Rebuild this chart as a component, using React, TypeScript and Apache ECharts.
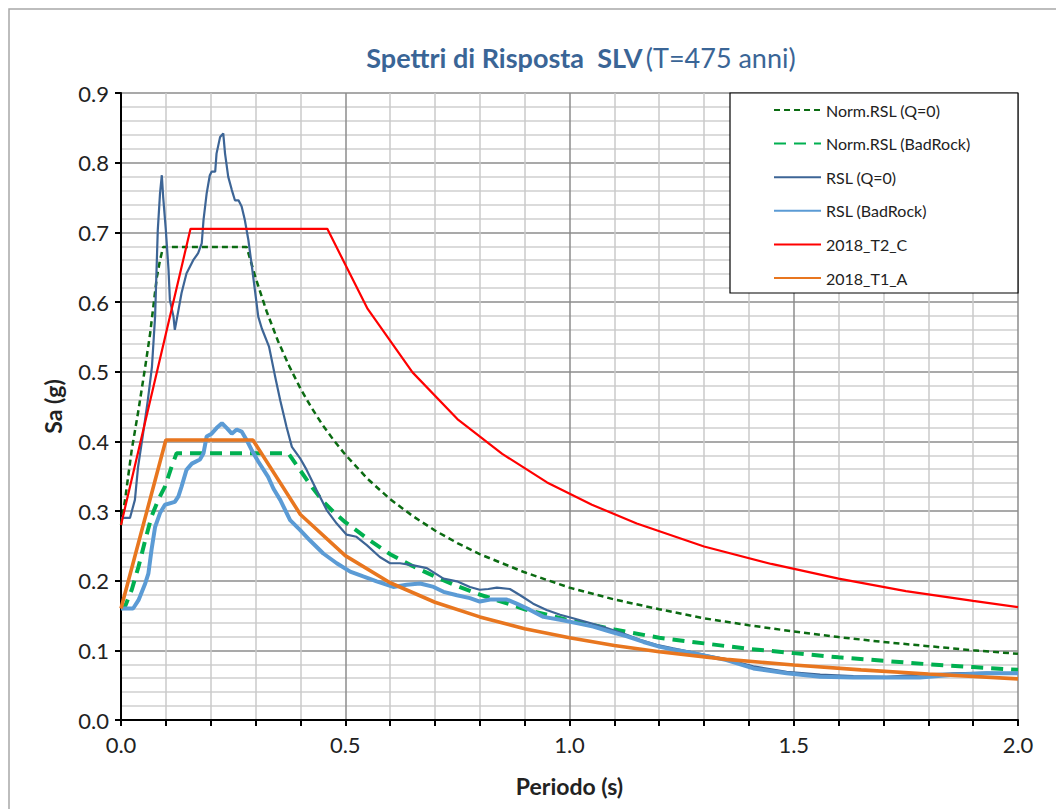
import React, { useEffect, useRef } from "react";
import * as echarts from "echarts";

const FONT = "Lato, 'Noto Sans', sans-serif";

const seriesNames = [
  "Norm.RSL (Q=0)",
  "Norm.RSL (BadRock)",
  "RSL (Q=0)",
  "RSL (BadRock)",
  "2018_T2_C",
  "2018_T1_A",
];

const xTickLabels = ["0.0", "0.5", "1.0", "1.5", "2.0"];

const normQ0T = [0.0, 0.009, 0.024, 0.039, 0.054, 0.065, 0.072, 0.08, 0.087, 0.094, 0.28, 0.3, 0.325, 0.35, 0.375, 0.4, 0.425, 0.45, 0.475, 0.5, 0.55, 0.6, 0.65, 0.7, 0.75, 0.8, 0.9, 1.0, 1.1, 1.2, 1.3, 1.4, 1.5, 1.6, 1.7, 1.8, 1.9, 2.0];
const normQ0Sa = [0.28, 0.316, 0.388, 0.445, 0.507, 0.555, 0.593, 0.636, 0.66, 0.679, 0.679, 0.635, 0.586, 0.544, 0.508, 0.476, 0.448, 0.423, 0.401, 0.381, 0.346, 0.317, 0.293, 0.272, 0.254, 0.238, 0.212, 0.19, 0.173, 0.159, 0.146, 0.136, 0.127, 0.119, 0.112, 0.106, 0.1, 0.095];

const normBadT = [0.0, 0.009, 0.024, 0.039, 0.054, 0.068, 0.083, 0.098, 0.113, 0.124, 0.373, 0.4, 0.425, 0.45, 0.475, 0.5, 0.55, 0.6, 0.65, 0.7, 0.75, 0.8, 0.9, 1.0, 1.1, 1.2, 1.3, 1.4, 1.5, 1.6, 1.7, 1.8, 1.9, 2.0];
const normBadSa = [0.16, 0.163, 0.187, 0.22, 0.258, 0.292, 0.316, 0.335, 0.364, 0.383, 0.383, 0.358, 0.335, 0.314, 0.298, 0.284, 0.26, 0.238, 0.221, 0.206, 0.192, 0.18, 0.159, 0.143, 0.13, 0.118, 0.11, 0.102, 0.096, 0.09, 0.085, 0.08, 0.076, 0.072];

const rslQ0T = [0.0, 0.02, 0.031, 0.038, 0.049, 0.06, 0.069, 0.076, 0.082, 0.087, 0.091, 0.094, 0.1, 0.106, 0.109, 0.117, 0.12, 0.128, 0.135, 0.146, 0.161, 0.172, 0.18, 0.184, 0.191, 0.198, 0.202, 0.21, 0.213, 0.221, 0.228, 0.232, 0.239, 0.247, 0.254, 0.262, 0.269, 0.276, 0.284, 0.291, 0.299, 0.306, 0.314, 0.33, 0.343, 0.355, 0.369, 0.381, 0.399, 0.414, 0.436, 0.459, 0.481, 0.503, 0.525, 0.548, 0.577, 0.6, 0.622, 0.652, 0.682, 0.719, 0.749, 0.778, 0.8, 0.819, 0.838, 0.867, 0.89, 0.919, 0.949, 0.979, 1.008, 1.046, 1.083, 1.12, 1.157, 1.194, 1.231, 1.269, 1.306, 1.35, 1.41, 1.484, 1.559, 1.633, 1.707, 1.781, 1.856, 1.93, 2.0];
const rslQ0Sa = [0.29, 0.29, 0.316, 0.363, 0.41, 0.46, 0.507, 0.579, 0.703, 0.756, 0.782, 0.751, 0.703, 0.646, 0.603, 0.579, 0.56, 0.588, 0.613, 0.641, 0.66, 0.67, 0.684, 0.718, 0.756, 0.782, 0.787, 0.787, 0.813, 0.837, 0.842, 0.813, 0.78, 0.761, 0.746, 0.746, 0.737, 0.718, 0.689, 0.655, 0.615, 0.579, 0.562, 0.536, 0.495, 0.459, 0.421, 0.392, 0.376, 0.359, 0.33, 0.301, 0.282, 0.266, 0.263, 0.251, 0.234, 0.225, 0.225, 0.222, 0.218, 0.203, 0.199, 0.191, 0.187, 0.188, 0.19, 0.188, 0.179, 0.167, 0.158, 0.151, 0.146, 0.139, 0.132, 0.124, 0.115, 0.108, 0.103, 0.098, 0.093, 0.087, 0.077, 0.069, 0.065, 0.063, 0.062, 0.065, 0.067, 0.068, 0.067];

const rslBadT = [0.0, 0.027, 0.039, 0.054, 0.061, 0.068, 0.076, 0.087, 0.098, 0.12, 0.128, 0.135, 0.146, 0.158, 0.176, 0.184, 0.191, 0.202, 0.213, 0.225, 0.236, 0.247, 0.258, 0.269, 0.28, 0.291, 0.306, 0.328, 0.34, 0.355, 0.377, 0.399, 0.421, 0.451, 0.481, 0.511, 0.54, 0.57, 0.607, 0.637, 0.667, 0.697, 0.719, 0.749, 0.778, 0.8, 0.823, 0.86, 0.882, 0.912, 0.942, 0.979, 1.016, 1.053, 1.09, 1.128, 1.165, 1.202, 1.239, 1.276, 1.313, 1.35, 1.41, 1.484, 1.559, 1.633, 1.707, 1.781, 1.856, 1.93, 2.0];
const rslBadSa = [0.16, 0.16, 0.172, 0.196, 0.21, 0.244, 0.277, 0.297, 0.309, 0.313, 0.321, 0.335, 0.359, 0.368, 0.374, 0.383, 0.407, 0.411, 0.419, 0.426, 0.419, 0.411, 0.417, 0.414, 0.402, 0.388, 0.371, 0.349, 0.332, 0.316, 0.287, 0.273, 0.258, 0.239, 0.225, 0.213, 0.206, 0.199, 0.191, 0.194, 0.196, 0.191, 0.184, 0.179, 0.175, 0.17, 0.173, 0.173, 0.167, 0.158, 0.148, 0.144, 0.139, 0.134, 0.127, 0.12, 0.112, 0.105, 0.1, 0.096, 0.091, 0.086, 0.074, 0.067, 0.062, 0.061, 0.061, 0.061, 0.065, 0.067, 0.067];

const t2cT = [0.0, 0.155, 0.46, 0.55, 0.65, 0.75, 0.85, 0.95, 1.05, 1.15, 1.3, 1.45, 1.6, 1.75, 1.9, 2.0];
const t2cSa = [0.28, 0.705, 0.705, 0.59, 0.499, 0.432, 0.382, 0.341, 0.309, 0.282, 0.249, 0.224, 0.203, 0.185, 0.171, 0.162];

const t1aT = [0.0, 0.1, 0.294, 0.4, 0.5, 0.6, 0.7, 0.8, 0.9, 1.0, 1.1, 1.2, 1.35, 1.5, 1.65, 1.8, 2.0];
const t1aSa = [0.16, 0.402, 0.402, 0.295, 0.236, 0.197, 0.169, 0.148, 0.131, 0.118, 0.107, 0.098, 0.087, 0.079, 0.072, 0.066, 0.059];

const zip = (xs: number[], ys: number[]) => xs.map((x, i) => [x, ys[i]]);

export default function App() {
  const ref = useRef<HTMLDivElement>(null);
  useEffect(() => {
    if (!ref.current) return;
    const chart = echarts.init(ref.current, null, { renderer: "svg" });
    const line = (name: string, xs: number[], ys: number[], color: string, width: number, type: any) => ({
      name,
      type: "line",
      data: zip(xs, ys),
      symbol: "none",
      lineStyle: { color, width, type, cap: "butt" },
      itemStyle: { color },
      emphasis: { disabled: true },
    });
    chart.setOption({
      animation: false,
      backgroundColor: "#ffffff",
      textStyle: { fontFamily: FONT },
      grid: { left: 121, top: 93, width: 897, height: 627 },
      graphic: [
        {
          type: "rect",
          shape: { x: 9, y: 9, width: 1100, height: 900 },
          style: { fill: "none", stroke: "#a8a8a8", lineWidth: 1.5 },
          z: 0,
          silent: true,
        },
        {
          type: "text",
          x: 581,
          y: 57,
          style: {
            text: "{b|Spettri di Risposta  SLV} {n|(T=475 anni)}",
            align: "center",
            verticalAlign: "middle",
            rich: {
              b: { fontFamily: FONT, fontSize: 27, fontWeight: "bold", fill: "#3a6596" },
              n: { fontFamily: FONT, fontSize: 27, fontWeight: "normal", fill: "#3a6596" },
            },
          },
          z: 10,
        },
        {
          type: "rect",
          shape: { x: 730, y: 93, width: 288, height: 200 },
          style: { fill: "#ffffff", stroke: "#000000", lineWidth: 1.2 },
          z: 50,
          silent: true,
        },
      ],
      legend: {
        data: seriesNames,
        orient: "vertical",
        left: 768,
        top: 96,
        itemWidth: 47,
        itemHeight: 14,
        itemGap: 15.6,
        selectedMode: false,
        z: 60,
        itemStyle: { opacity: 0 },
        textStyle: { fontFamily: FONT, fontSize: 16, color: "#222", lineHeight: 18 },
      },
      xAxis: {
        type: "value",
        min: 0,
        max: 2,
        interval: 0.1,
        name: "Periodo (s)",
        nameLocation: "middle",
        nameGap: 54,
        nameTextStyle: { fontFamily: FONT, fontSize: 23, fontWeight: "bold", color: "#222" },
        axisLine: { lineStyle: { color: "#000", width: 2 } },
        axisTick: { length: 6, lineStyle: { color: "#000", width: 2 } },
        axisLabel: {
          fontFamily: FONT,
          fontSize: 22,
          color: "#222",
          margin: 13,
          formatter: (v: number) => {
            const k = v * 2;
            if (Math.abs(k - Math.round(k)) < 1e-6) return xTickLabels[Math.round(k)] ?? "";
            return "";
          },
        },
        splitLine: {
          show: true,
          lineStyle: { color: ["#8c8c8c", "#cacaca", "#cacaca", "#cacaca", "#cacaca"], width: 1.5 },
        },
      },
      yAxis: {
        type: "value",
        min: 0,
        max: 0.9,
        interval: 0.1,
        name: "Sa (g)",
        nameLocation: "middle",
        nameGap: 57,
        nameTextStyle: { fontFamily: FONT, fontSize: 23, fontWeight: "bold", color: "#222" },
        axisLine: { show: true, lineStyle: { color: "#000", width: 2 } },
        axisTick: { show: true, length: 6, lineStyle: { color: "#000", width: 2 } },
        axisLabel: {
          fontFamily: FONT,
          fontSize: 22,
          color: "#222",
          margin: 12,
          formatter: (v: number) => v.toFixed(1),
        },
        splitLine: { show: true, lineStyle: { color: "#8c8c8c", width: 1.5 } },
        minorTick: { show: false, splitNumber: 5 },
        minorSplitLine: { show: true, lineStyle: { color: "#cfcfcf", width: 1.5 } },
      },
      series: [
        line(seriesNames[0], normQ0T, normQ0Sa, "#0b6b12", 2.5, [6, 4]),
        line(seriesNames[1], normBadT, normBadSa, "#00b050", 4, [12, 8]),
        line(seriesNames[2], rslQ0T, rslQ0Sa, "#3d6596", 2.2, "solid"),
        line(seriesNames[3], rslBadT, rslBadSa, "#5b9bd5", 4, "solid"),
        line(seriesNames[4], t2cT, t2cSa, "#ff0000", 2.2, "solid"),
        line(seriesNames[5], t1aT, t1aSa, "#e8761f", 3.6, "solid"),
      ],
    });
    return () => chart.dispose();
  }, []);
  return (
    <div
      ref={ref}
      style={{ position: "fixed", left: 0, top: 0, width: 1056, height: 809 }}
    />
  );
}
